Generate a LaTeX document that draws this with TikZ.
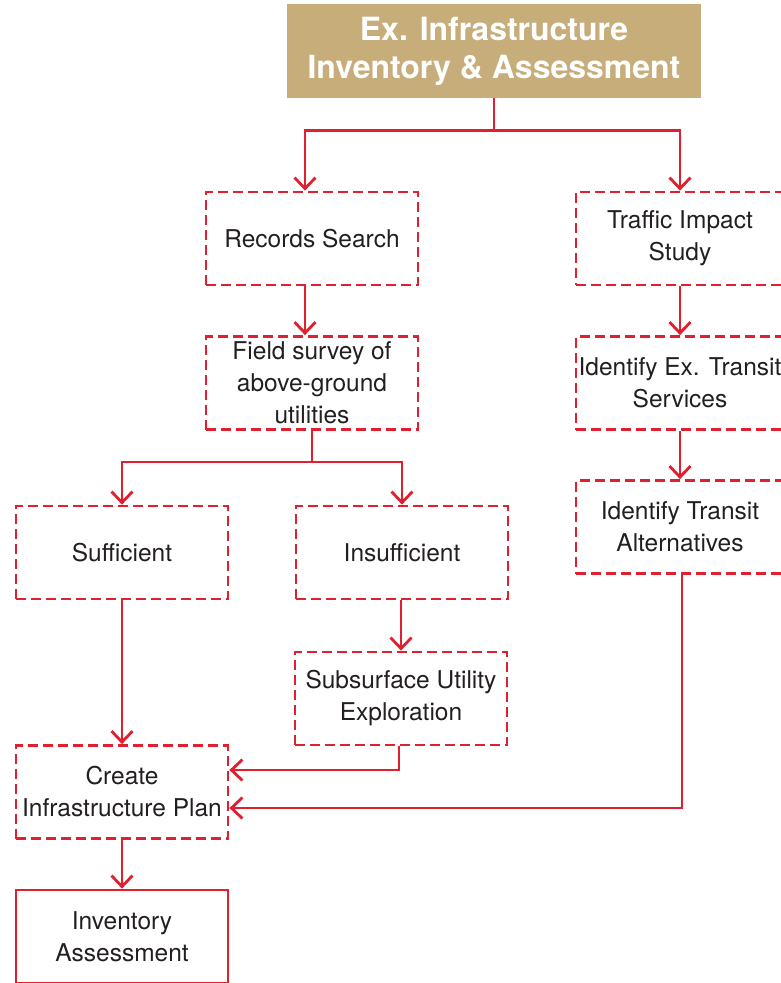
\documentclass[tikz,border=0pt]{standalone}
\usepackage{fontspec}
\setmainfont{TeX Gyre Heros}
\usetikzlibrary{arrows.meta}
\definecolor{lineRed}{HTML}{E0202E}
\definecolor{titleGold}{HTML}{C6AD7A}
\definecolor{textGrey}{HTML}{231F20}

\begin{document}
\begin{tikzpicture}[x=1pt, y=-1pt,
		stepbox/.style={draw=lineRed, line width=2.8pt, dash pattern=on 10pt off 5pt, minimum width=212pt, minimum height=93pt, inner sep=0pt, align=center, text=textGrey, font=\fontsize{24.5}{32}\selectfont},
		endbox/.style={stepbox, solid},
		titlebox/.style={fill=titleGold, minimum width=414pt, minimum height=94pt, inner sep=0pt, align=center, text=white, font=\fontsize{32}{38}\selectfont\bfseries},
		link/.style={draw=lineRed, line width=2.8pt, -{Straight Barb[length=11pt, width=21pt, line width=2.8pt]}}]
			%%%%% START %%%%%
			
			\useasboundingbox (0, 0) rectangle (781, 983);
			
			\node[titlebox] (title) at (494, 51) {Ex. Infrastructure\\Inventory \& Assessment};
			
			\node[stepbox] (rec) at (312, 238.5) {Records Search};
			\node[stepbox] (field) at (312, 383) {Field survey of\\above-ground\\utilities};
			\node[stepbox] (suff) at (122, 552.5) {Sufficient};
			\node[stepbox] (insuff) at (402, 552.5) {Insufficient};
			\node[stepbox] (subsurf) at (401, 698.5) {Subsurface Utility\\Exploration};
			\node[stepbox] (plan) at (122, 792) {Create\\Infrastructure Plan};
			\node[endbox] (inv) at (122, 936.5) {Inventory\\Assessment};
			
			\node[stepbox, minimum width=208pt] (traffic) at (680, 238.5) {Traffic Impact\\Study};
			\node[stepbox, minimum width=208pt] (exserv) at (680, 383) {Identify Ex. Transit\\Services};
			\node[stepbox, minimum width=208pt] (alt) at (680, 527) {Identify Transit\\Alternatives};
			
			\draw[link] (title.south) -- +(0, 32) -| ([xshift=-7pt]rec.north);
			\draw[link] (title.south) -- +(0, 32) -| (traffic.north);
			
			\draw[link] ([xshift=-7pt]rec.south) -- ([xshift=-7pt]field.north);
			\draw[link] (field.south) -- +(0, 31) -| (suff.north);
			\draw[link] (field.south) -- +(0, 31) -| (insuff.north);
			\draw[link] (insuff.south -| subsurf.north) -- (subsurf.north);
			\draw[link] (suff.south) -- (plan.north);
			\draw[link] ([xshift=-2pt]subsurf.south) |- ([yshift=22pt]plan.east);
			
			\draw[link] (traffic.south) -- (exserv.north);
			\draw[link] (exserv.south) -- (alt.north);
			\draw[link] ([xshift=2pt]alt.south) |- ([yshift=-16pt]plan.east);
			
			\draw[link] (plan.south) -- (inv.north);
			
			%%%%% END %%%%%
		\end{tikzpicture}
\end{document}
